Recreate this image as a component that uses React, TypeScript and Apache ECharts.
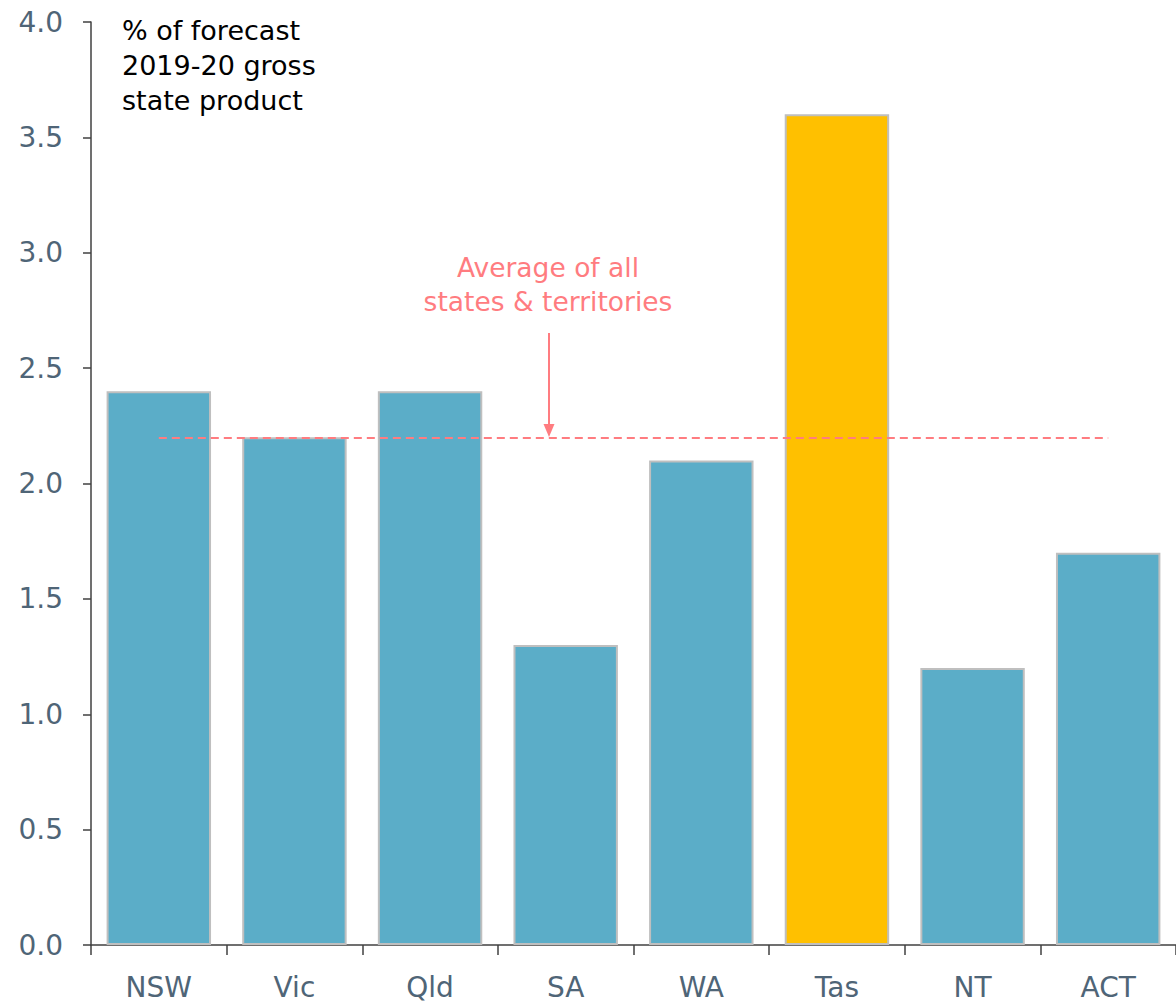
import React, { useEffect, useRef } from "react";
import * as echarts from "echarts";

const categories = ["NSW", "Vic", "Qld", "SA", "WA", "Tas", "NT", "ACT"];
const values = [2.4, 2.2, 2.4, 1.3, 2.1, 3.6, 1.2, 1.7];
const highlighted = ["Tas"];
const averageValue = 2.2;
const yTicks = { min: 0, max: 4, interval: 0.5 };
const titleLines = ["% of forecast", "2019-20 gross", "state product"];
const averageLabelLines = ["Average of all", "states & territories"];

const FONT = "'DejaVu Sans', sans-serif";
const BLUE = "#5badc8";
const GOLD = "#ffc000";
const PINK = "#ff7c80";
const LABEL = "#4f6577";

export default function App() {
  const ref = useRef<HTMLDivElement>(null);
  useEffect(() => {
    document.body.style.margin = "0";
    const chart = echarts.init(ref.current!, undefined, { renderer: "svg" });
    const option: any = {
      animation: false,
      textStyle: { fontFamily: FONT },
      grid: { left: 91, top: 22, right: 0, bottom: 58, containLabel: false },
      xAxis: {
        type: "category",
        data: categories,
        boundaryGap: true,
        axisLine: { lineStyle: { color: "#404040", width: 1.5 } },
        axisTick: { show: true, length: 10, lineStyle: { color: "#404040", width: 1.5 } },
        axisLabel: { color: LABEL, fontSize: 28, margin: 28, fontFamily: FONT },
      },
      yAxis: {
        type: "value",
        min: yTicks.min,
        max: yTicks.max,
        interval: yTicks.interval,
        axisLine: { show: true, lineStyle: { color: "#404040", width: 1.5 } },
        axisTick: { show: true, length: 8, lineStyle: { color: "#404040", width: 1.5 } },
        axisLabel: {
          color: LABEL,
          fontSize: 28,
          margin: 28,
          fontFamily: FONT,
          formatter: (v: number) => v.toFixed(1),
        },
        splitLine: { show: false },
      },
      series: [
        {
          type: "bar",
          data: values.map((v, i) => ({
            value: v,
            itemStyle: {
              color: highlighted.includes(categories[i]) ? GOLD : BLUE,
            },
          })),
          barCategoryGap: "23%",
          itemStyle: { borderColor: "#bfbfbf", borderWidth: 2 },
          markLine: {
            silent: true,
            symbol: ["none", "none"],
            label: { show: false },
            lineStyle: { color: PINK, type: [8, 5], width: 2 },
            data: [
              [
                { coord: [categories[0], averageValue] },
                { coord: [categories[categories.length - 1], averageValue] },
              ],
            ],
          },
        },
      ],
      graphic: [
        {
          type: "text",
          left: 122,
          top: 13,
          style: {
            text: titleLines.join("\n"),
            font: `27px ${FONT}`,
            fill: "#000",
            lineHeight: 35,
          },
        },
        {
          type: "text",
          x: 548,
          y: 250,
          style: {
            text: averageLabelLines.join("\n"),
            font: `26.5px ${FONT}`,
            fill: PINK,
            lineHeight: 34,
            align: "center",
          },
        },
        {
          type: "line",
          shape: { x1: 549, y1: 333, x2: 549, y2: 426 },
          style: { stroke: PINK, lineWidth: 2 },
        },
        {
          type: "polygon",
          shape: { points: [[543.5, 424], [554.5, 424], [549, 437]] },
          style: { fill: PINK },
        },
      ],
    };
    chart.setOption(option);
    return () => chart.dispose();
  }, []);
  return <div ref={ref} style={{ width: 1176, height: 1003 }} />;
}
